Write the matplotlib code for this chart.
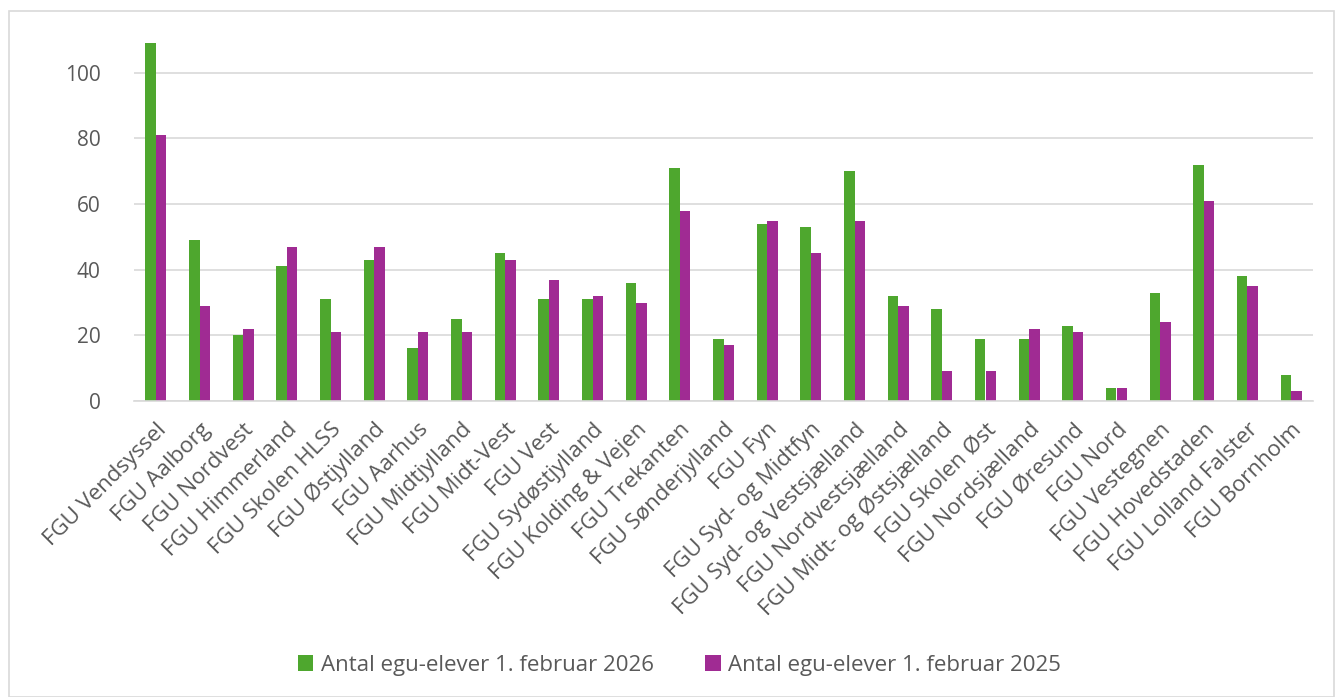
import numpy as np
import matplotlib
matplotlib.use('Agg')
import matplotlib.pyplot as plt
from matplotlib.patches import Rectangle

skoler = ['FGU Vendsyssel', 'FGU Aalborg', 'FGU Nordvest', 'FGU Himmerland',
          'FGU Skolen HLSS', 'FGU Østjylland', 'FGU Aarhus', 'FGU Midtjylland',
          'FGU Midt-Vest', 'FGU Vest', 'FGU Sydøstjylland', 'FGU Kolding & Vejen',
          'FGU Trekanten', 'FGU Sønderjylland', 'FGU Fyn', 'FGU Syd- og Midtfyn',
          'FGU Syd- og Vestsjælland', 'FGU Nordvestsjælland', 'FGU Midt- og Østsjælland',
          'FGU Skolen Øst', 'FGU Nordsjælland', 'FGU Øresund', 'FGU Nord',
          'FGU Vestegnen', 'FGU Hovedstaden', 'FGU Lolland Falster', 'FGU Bornholm']
elever_2026 = [109, 49, 20, 41, 31, 43, 16, 25, 45, 31, 31, 36, 71, 19, 54, 53,
               70, 32, 28, 19, 19, 23, 4, 33, 72, 38, 8]
elever_2025 = [81, 29, 22, 47, 21, 47, 21, 21, 43, 37, 32, 30, 58, 17, 55, 45,
               55, 29, 9, 9, 22, 21, 4, 24, 61, 35, 3]

plt.rcParams['font.family'] = ['Open Sans', 'DejaVu Sans']
tekst = '#595959'

fig = plt.figure(figsize=(13.35, 6.97), dpi=100)
fig.patches.append(Rectangle((9 / 1335, 0), 1 - 9 / 1335 - 0.001, 1 - 11 / 697,
                             transform=fig.transFigure, fill=False,
                             edgecolor='#d9d9d9', linewidth=1.2))
ax = fig.add_axes([134 / 1335, 1 - 401 / 697, 1179 / 1335, 361 / 697])

x = np.arange(len(skoler))
w = 0.24
ax.bar(x - w / 2, elever_2026, w, color='#4ea72e', label='Antal egu-elever 1. februar 2026')
ax.bar(x + w / 2, elever_2025, w, color='#a02b93', label='Antal egu-elever 1. februar 2025')

ax.set_xlim(-0.5, len(skoler) - 0.5)
ax.set_ylim(0, 110)
ax.set_yticks(range(0, 101, 20))
ax.grid(axis='y', color='#d9d9d9', linewidth=1.2)
ax.set_axisbelow(True)
for s in ['top', 'right', 'left']:
    ax.spines[s].set_visible(False)
ax.spines['bottom'].set_color('#d9d9d9')
ax.spines['bottom'].set_linewidth(1.2)
ax.tick_params(axis='y', length=0, colors=tekst, labelsize=15, pad=24)
ax.tick_params(axis='x', length=0, colors=tekst, labelsize=16, pad=13)
ax.set_xticks(x)
ax.set_xticklabels(skoler, rotation=45, ha='right', rotation_mode='anchor')

fig.legend(loc='center', bbox_to_anchor=(0.509, 1 - 665 / 697), ncol=2, frameon=False,
           fontsize=16, labelcolor=tekst, handlelength=0.7, handleheight=0.7,
           handletextpad=0.35, columnspacing=2.3)

fig.savefig('out.png', dpi=100)
